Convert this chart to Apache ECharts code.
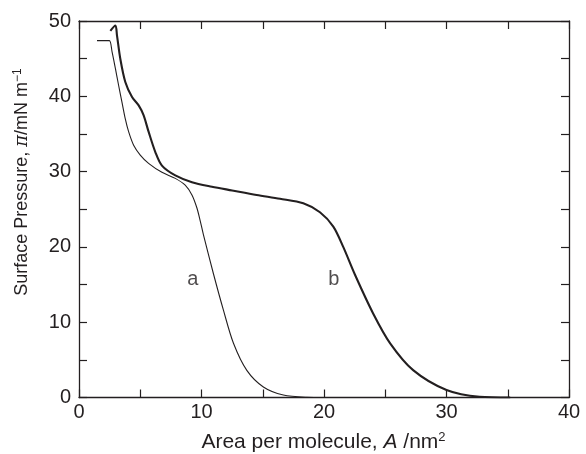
<!DOCTYPE html>
<html>
<head>
<meta charset="utf-8">
<script src="https://cdn.jsdelivr.net/npm/echarts@6/dist/echarts.min.js"></script>
<style>
  html, body { margin: 0; padding: 0; background: #fff; }
  #chart { width: 586px; height: 454px; }
</style>
</head>
<body>
<div id="chart"></div>
<script>
// Surface pressure isotherms (pi vs. area per molecule)
const areaA = [1.47, 2.0, 2.48, 2.70, 2.97, 3.24, 3.51, 3.78, 4.05, 4.46, 5.0, 5.68, 6.77, 7.86, 8.67, 9.22, 9.62, 9.89, 10.16, 10.98, 11.79, 12.61, 13.7, 15.05, 16.68, 18.6, 20.0];
const piA   = [47.4, 47.4, 47.4, 45.9, 43.7, 41.4, 39.2, 37.0, 35.3, 33.5, 32.2, 31.1, 29.9, 29.1, 28.2, 26.9, 25.2, 23.5, 21.6, 16.4, 11.6, 7.2, 3.6, 1.4, 0.33, 0.03, 0];

const areaB = [2.56, 2.97, 3.1, 3.37, 3.78, 4.33, 4.87, 5.27, 5.68, 6.23, 6.77, 7.86, 9.22, 10.85, 12.5, 14.5, 16.41, 18.31, 19.67, 20.76, 21.57, 22.53, 24.0, 25.4, 27.3, 30.0, 32.7, 35.2];
const piB   = [48.7, 49.4, 48.1, 45.0, 41.9, 39.9, 38.8, 37.5, 35.3, 32.6, 30.8, 29.5, 28.6, 28.0, 27.5, 26.9, 26.4, 25.8, 24.6, 22.7, 20.0, 16.3, 11.2, 7.2, 3.6, 1.0, 0.1, 0];

// curve tags: [label, area, pi]
const curveTags = [['a', 9.3, 15.7], ['b', 20.8, 15.7]];

const xTicks = [0, 10, 20, 30, 40];
const yTicks = [0, 10, 20, 30, 40, 50];

const ink = '#231f20';
const fontFamily = '"Liberation Sans", Arial, Helvetica, sans-serif';

const zip = (xs, ys) => xs.map((x, i) => [x, ys[i]]);

const chart = echarts.init(document.getElementById('chart'), null, { renderer: 'canvas' });

const baseAxis = {
  min: 0,
  interval: 10,
  axisLine: { show: true, onZero: false, lineStyle: { color: ink, width: 1.3 } },
  axisTick: { show: true, inside: true, length: 8, lineStyle: { color: ink, width: 1.2 } },
  minorTick: { show: true, splitNumber: 2, length: 8, lineStyle: { color: ink, width: 1.2 } },
  splitLine: { show: false },
  minorSplitLine: { show: false }
};

const labelStyle = { color: ink, fontSize: 20, fontFamily: fontFamily };

chart.setOption({
  animation: false,
  backgroundColor: '#fff',
  grid: { left: 79, right: 17, top: 21, bottom: 56.5, containLabel: false },
  xAxis: [
    Object.assign({}, baseAxis, {
      type: 'value', position: 'bottom', max: xTicks[xTicks.length - 1],
      axisLabel: Object.assign({ margin: 5 }, labelStyle)
    }),
    Object.assign({}, baseAxis, {
      type: 'value', position: 'top', max: xTicks[xTicks.length - 1],
      axisLabel: { show: false }
    })
  ],
  yAxis: [
    Object.assign({}, baseAxis, {
      type: 'value', position: 'left', max: yTicks[yTicks.length - 1],
      axisLabel: Object.assign({ margin: 8 }, labelStyle)
    }),
    Object.assign({}, baseAxis, {
      type: 'value', position: 'right', max: yTicks[yTicks.length - 1],
      axisLabel: { show: false }
    })
  ],
  series: [
    {
      name: 'a', type: 'line', data: zip(areaA, piA),
      smooth: 0.3, showSymbol: false,
      lineStyle: { color: ink, width: 1.1 }
    },
    {
      name: 'b', type: 'line', data: zip(areaB, piB),
      smooth: 0.3, showSymbol: false,
      lineStyle: { color: ink, width: 2.1 }
    },
    {
      name: 'tags', type: 'scatter', symbolSize: 0,
      data: curveTags.map(t => ({ value: [t[1], t[2]], name: t[0] })),
      label: {
        show: true, position: 'inside', formatter: p => p.name,
        color: ink, fontSize: 20, fontFamily: fontFamily
      },
      silent: true
    }
  ],
  graphic: [
    {
      type: 'text',
      x: 323.5, y: 442,
      style: {
        x: 0, y: 0, align: 'center', verticalAlign: 'middle',
        text: '{t|Area per molecule, }{i|A}{t| /nm}{s|2}',
        rich: {
          t: { fontSize: 21, fontFamily: fontFamily, fill: ink },
          i: { fontSize: 21, fontFamily: fontFamily, fontStyle: 'italic', fill: ink },
          s: { fontSize: 13, fontFamily: fontFamily, fill: ink, padding: [0, 0, 9, 0] }
        }
      }
    },
    {
      type: 'text',
      x: 22, y: 182, rotation: Math.PI / 2,
      style: {
        x: 0, y: 0, align: 'center', verticalAlign: 'middle',
        text: '{t|Surface Pressure, }{i|π}{t|/mN m}{s|−1}',
        rich: {
          t: { fontSize: 18, fontFamily: fontFamily, fill: ink },
          i: { fontSize: 18, fontFamily: '"DejaVu Serif", serif', fontStyle: 'italic', fill: ink },
          s: { fontSize: 12, fontFamily: fontFamily, fill: ink, padding: [0, 0, 8, 0] }
        }
      }
    }
  ]
});
</script>
</body>
</html>
